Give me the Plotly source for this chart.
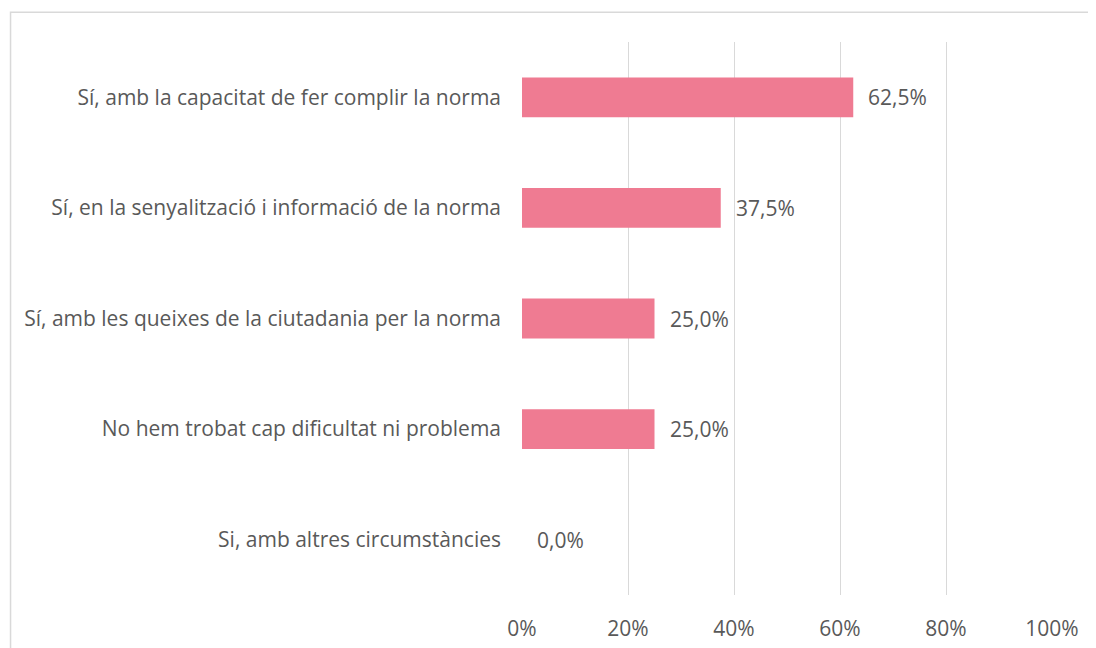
import plotly.graph_objects as go

categories = [
    "Si, amb altres circumstàncies",
    "No hem trobat cap dificultat ni problema",
    "Sí, amb les queixes de la ciutadania per la norma",
    "Sí, en la senyalització i informació de la norma",
    "Sí, amb la capacitat de fer complir la norma",
]
values = [0.0, 25.0, 25.0, 37.5, 62.5]
tick_vals = [0, 20, 40, 60, 80, 100]
tick_text = ["0%", "20%", "40%", "60%", "80%", "100%"]

FONT = "Open Sans"
TXT = "#595959"

fig = go.Figure()
fig.add_trace(go.Bar(
    y=categories, x=values, orientation="h",
    marker=dict(color="#EF7B92", line=dict(width=0)),
    hoverinfo="skip",
))

for c, v in zip(categories, values):
    fig.add_annotation(
        x=v, y=c, xref="x", yref="y",
        text=f"{v:.1f}%".replace(".", ","),
        showarrow=False, xanchor="left", xshift=13,
        font=dict(family=FONT, size=21, color=TXT),
    )

# chart border (top and left visible; right/bottom fall outside the picture)
fig.add_shape(type="rect", xref="paper", yref="paper",
              x0=-0.965, x1=1.12, y0=-0.25, y1=1.054,
              line=dict(color="#D9D9D9", width=1.5), layer="below")

# the page body has an 8px default margin, so the figure is 8px smaller
fig.update_layout(
    width=1088, height=640,
    margin=dict(l=513.5, r=44, t=34, b=53, autoexpand=False),
    paper_bgcolor="white", plot_bgcolor="white",
    bargap=0.64,
    showlegend=False,
    font=dict(family=FONT, size=21, color=TXT),
)
fig.update_xaxes(
    range=[0, 100], tickvals=tick_vals, ticktext=tick_text,
    showgrid=True, gridcolor="#D9D9D9", gridwidth=1.3,
    zeroline=False, showline=False, automargin=False,
    tickfont=dict(family=FONT, size=21, color=TXT),
    ticklabelstandoff=19,
)
fig.update_yaxes(
    showgrid=False, zeroline=False, showline=False, automargin=False,
    tickfont=dict(family=FONT, size=21, color=TXT),
    ticklabelstandoff=20,
)

fig.write_html("out.html")
